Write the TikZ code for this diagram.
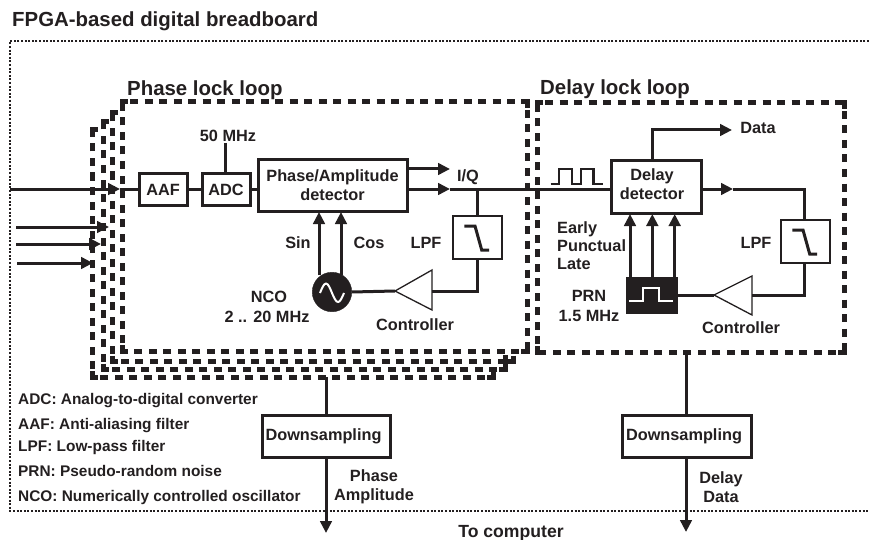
\documentclass[tikz,border=0pt]{standalone}
\usepackage{fontspec}
\setmainfont{Liberation Sans}
\usetikzlibrary{arrows.meta}
\definecolor{ink}{HTML}{231F20}
\tikzset{
  lab/.style={anchor=base,inner sep=0pt,font=\fontsize{16.3}{18}\bfseries,text=ink},
  leg/.style={anchor=base west,inner sep=0pt,font=\fontsize{15.4}{18}\bfseries,text=ink},
  head/.style={anchor=base west,inner sep=0pt,font=\fontsize{20.4}{24}\bfseries,text=ink},
  box/.style={draw=ink,line width=3pt,fill=white,inner sep=0pt,outer sep=0pt,font=\fontsize{16.3}{18}\bfseries,text=ink},
  lpfbox/.style={draw=ink,line width=2pt,fill=white,inner sep=0pt,outer sep=0pt,minimum width=49pt,minimum height=43pt},
  sig/.style={draw=ink,line width=3pt},
  arr/.style={sig,-{Triangle[length=12pt,width=11.5pt]}},
  thin/.style={draw=ink,line width=1.3pt,fill=white},
  loopd/.style={draw=ink,line width=5pt,dash pattern=on 8pt off 6.5pt,dash phase=-8pt},
  cornerd/.style={draw=ink,line width=5pt,solid},
  outerd/.style={draw=ink,line width=2pt,dash pattern=on 2pt off 1.6pt},
}
\begin{document}
\begin{tikzpicture}[x=1pt,y=-1pt]
\useasboundingbox (0,0) rectangle (869,540);
% outer frame
\draw[outerd] (869,41) -- (10,41) -- (10,511) -- (869,511);
\node[head] (title) at (12,27) {FPGA-based digital breadboard};
\node[head] (pll) at (127,96) {Phase lock loop};
\node[head] (dll) at (540,95) {Delay lock loop};
% stacked PLL frames
\draw[loopd] (122,102) -- (527,102);
\draw[loopd] (527,102) -- (527,351);
\draw[loopd] (527,351) -- (122,351);
\draw[loopd] (122,351) -- (122,102);
\draw[loopd] (513.5,361.5) -- (112,361.5);
\draw[loopd] (112,361.5) -- (112,113);
\draw[loopd] (505,369.5) -- (103,369.5);
\draw[loopd] (103,369.5) -- (103,122);
\draw[loopd] (493,377) -- (92,377);
\draw[loopd] (92,377) -- (92,129.5);
\draw[cornerd] (122,108) -- (122,102) -- (128,102);
\draw[cornerd] (527,108) -- (527,102) -- (521,102);
\draw[cornerd] (527,345) -- (527,351) -- (521,351);
\draw[cornerd] (122,345) -- (122,351) -- (128,351);
\draw[cornerd] (112,119) -- (112,113) -- (118,113);
\draw[cornerd] (103,128) -- (103,122) -- (109,122);
\draw[cornerd] (92,135.5) -- (92,129.5) -- (98,129.5);
\draw[cornerd] (112,355.5) -- (112,361.5) -- (118,361.5);
\draw[cornerd] (103,363.5) -- (103,369.5) -- (109,369.5);
\draw[cornerd] (92,371) -- (92,377) -- (98,377);
\draw[cornerd] (513.5,355.5) -- (513.5,361.5) -- (507.5,361.5);
\draw[cornerd] (505,355) -- (505,369.5) -- (499,369.5);
\draw[cornerd] (493,371) -- (493,377) -- (487,377);
% DLL frame
\draw[loopd] (537,103) -- (844,103);
\draw[loopd] (844,103) -- (844,352);
\draw[loopd] (844,352) -- (537,352);
\draw[loopd] (537,352) -- (537,103);
\draw[cornerd] (537,109) -- (537,103) -- (543,103);
\draw[cornerd] (844,109) -- (844,103) -- (838,103);
\draw[cornerd] (844,346) -- (844,352) -- (838,352);
\draw[cornerd] (537,346) -- (537,352) -- (543,352);
% blocks
\node[box,minimum width=48pt,minimum height=31pt] (aaf) at (163,189.5) {AAF};
\node[box,minimum width=48pt,minimum height=31pt] (adc) at (226,189.5) {ADC};
\node[box,minimum width=149pt,minimum height=51pt,align=center] (pad) at (332.5,185.5) {Phase/Amplitude\\[1pt]detector};
\node[box,minimum width=90pt,minimum height=52pt,align=center] (dd) at (656,187) {\phantom{}};
\node[lab] (ddt1) at (652,181) {Delay};
\node[lab] (ddt2) at (652,200) {detector};
\node[box,minimum width=128pt,minimum height=42pt] (ds1) at (326,436) {\hspace*{-5pt}Downsampling};
\node[box,minimum width=129pt,minimum height=42pt] (ds2) at (686.5,436) {\hspace*{-5pt}Downsampling};
\node[lpfbox] (lpf1) at (477.5,237.5) {};
\node[lpfbox] (lpf2) at (805.5,241.5) {};
\draw[draw=ink,line width=3pt] (464.3,226) -- (475,226) -- (481.7,250) -- (489,250);
\draw[draw=ink,line width=3pt] (792.3,230) -- (803,230) -- (809.7,254) -- (817,254);
\node[draw=ink,fill=ink,line width=1pt,inner sep=0pt,outer sep=0pt,minimum width=51pt,minimum height=36pt] (prn) at (651.5,295) {};
\draw[white,line width=1.8pt] (629,301) -- (643,301) -- (643,288) -- (659,288) -- (659,301) -- (673,301);
\node[draw=ink,fill=ink,circle,inner sep=0pt,outer sep=0pt,minimum size=39.5pt] (nco) at (332,292) {};
\draw[white,line width=2pt] (320,293) sin (326,283.5) cos (332,293) sin (338,302) cos (344,293);
% amplifiers
\coordinate (amp1in) at (432,291);
\coordinate (amp1out) at (395,291);
\coordinate (amp2in) at (752,295);
\coordinate (amp2out) at (714,295);
\draw[thin] (amp1out) -- (432,270) -- (432,310) -- cycle;
\draw[thin] (amp2out) -- (752,276) -- (752,315) -- cycle;
% connectors
\coordinate (inA) at (10,189);
\coordinate (tipA) at (120,189);
\draw[arr] (inA) -- (tipA);
\draw[sig] (tipA) -- (139,189);
\draw[sig] (aaf.east |- 0,189) -- (adc.west |- 0,189);
\draw[sig] (adc.east |- 0,189) -- (pad.west |- 0,189);
\coordinate (clk) at (225.5,143);
\draw[sig] (clk) -- (225.5,174);
\coordinate (i1) at (16,227); \coordinate (t1) at (109,227);
\coordinate (i2) at (16,244); \coordinate (t2) at (101,244);
\coordinate (i3) at (17,263); \coordinate (t3) at (93,263);
\draw[arr] (i1) -- (t1);
\draw[arr] (i2) -- (t2);
\draw[arr] (i3) -- (t3);
\coordinate (iqtip) at (450,169);
\draw[arr] (pad.east |- iqtip) -- (iqtip);
\coordinate (sigtip) at (450,189);
\coordinate (jn) at (477.5,189);
\draw[arr] (pad.east |- sigtip) -- (sigtip);
\draw[sig] (sigtip) -- (dd.west |- sigtip);
\draw[sig] (jn) -- (lpf1.north);
\draw[sig] (lpf1.south) -- (477.5,291) -- (amp1in);
\draw[sig] (amp1out) -- (nco.east);
\draw[arr] (319,275) -- (319,212);
\draw[arr] (341,275) -- (341,212);
% DLL connectors
\coordinate (dtip) at (732,130);
\draw[arr] (652,161) -- (652,130) -- (dtip);
\coordinate (tip2) at (733,189);
\draw[arr] (dd.east |- tip2) -- (tip2);
\draw[sig] (tip2) -- (804,189) -- (lpf2.north -| 804,0);
\draw[sig] (lpf2.south -| 804,0) -- (804,295) -- (amp2in);
\draw[sig] (amp2out) -- (prn.east);
\draw[arr] (630,277) -- (630,214);
\draw[arr] (652.3,277) -- (652.3,214);
\draw[arr] (674.7,277) -- (674.7,214);
\draw[draw=ink,line width=2.4pt] (550.7,184) -- (559,184) -- (559,169) -- (571.7,169) -- (571.7,184) -- (581,184) -- (581,169) -- (593.3,169) -- (593.3,184) -- (602.7,184);
% outputs
\coordinate (o1) at (326,377);
\coordinate (o1t) at (326,533);
\draw[sig] (o1) -- (ds1.north -| o1);
\draw[arr] (ds1.south -| o1) -- (o1t);
\coordinate (o2) at (686,352);
\coordinate (o2t) at (686,532);
\draw[sig] (o2) -- (ds2.north -| o2);
\draw[arr] (ds2.south -| o2) -- (o2t);
% labels
\node[lab] (l50) at (228,142) {50 MHz};
\node[lab] (liq) at (468,182) {I/Q};
\node[lab] (lsin) at (298,248) {Sin};
\node[lab] (lcos) at (369,248) {Cos};
\node[lab] (llpf1) at (426,248) {LPF};
\node[lab] (lnco) at (269,302) {NCO};
\node[lab] (lnco2) at (267,322) {2 .. 20 MHz};
\node[lab] (lctl1) at (415,330) {Controller};
\node[lab] (ldata) at (758,134) {Data};
\node[lab,anchor=base west] (le) at (557,233) {Early};
\node[lab,anchor=base west] (lp) at (557,251) {Punctual};
\node[lab,anchor=base west] (ll) at (557,269) {Late};
\node[lab] (llpf2) at (756,248) {LPF};
\node[lab] (lprn) at (589,301) {PRN};
\node[lab] (lprn2) at (589,321) {1.5 MHz};
\node[lab] (lctl2) at (741,333) {Controller};
\node[lab] (lph) at (374,481) {Phase};
\node[lab] (lam) at (374,500) {Amplitude};
\node[lab] (ldl) at (721,483) {Delay};
\node[lab] (ldd) at (721,502) {Data};
\node[lab,font=\fontsize{17.6}{20}\bfseries] (ltc) at (511,537) {To computer};
\node[leg] (k1) at (18,404) {ADC: Analog-to-digital converter};
\node[leg] (k2) at (18,429) {AAF: Anti-aliasing filter};
\node[leg] (k3) at (18,451) {LPF: Low-pass filter};
\node[leg] (k4) at (18,476) {PRN: Pseudo-random noise};
\node[leg] (k5) at (18,501) {NCO: Numerically controlled oscillator};
\end{tikzpicture}
\end{document}
